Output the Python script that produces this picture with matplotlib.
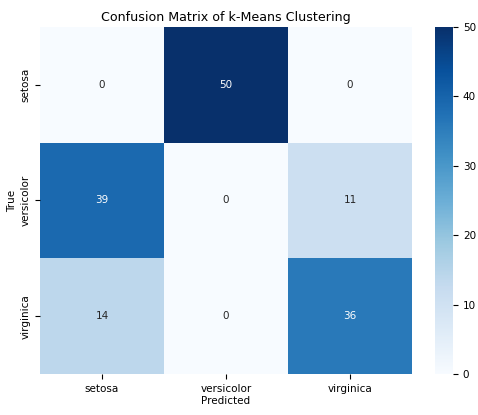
import matplotlib
matplotlib.use("Agg")
import matplotlib.pyplot as plt
import seaborn as sns
import numpy as np

classes = ["setosa", "versicolor", "virginica"]
row_setosa = [0, 50, 0]
row_versicolor = [39, 0, 11]
row_virginica = [14, 0, 36]

cm = np.array([row_setosa, row_versicolor, row_virginica])

fig = plt.figure(figsize=(4.78, 4.15), dpi=100)
ax = fig.add_axes([0.0837, 0.0988, 0.7783, 0.8362])
cax = fig.add_axes([0.910, 0.0988, 0.038, 0.8362])

sns.heatmap(cm, annot=True, fmt="d", cmap="Blues", ax=ax, cbar_ax=cax,
            xticklabels=classes, yticklabels=classes,
            annot_kws={"fontsize": 7.5})
ax.set_title("Confusion Matrix of k-Means Clustering", fontsize=9.1, pad=4)
ax.set_xlabel("Predicted", fontsize=7.5, labelpad=2)
ax.set_ylabel("True", fontsize=7.5, labelpad=2)
ax.tick_params(labelsize=7.5)
cax.tick_params(labelsize=7.5)

fig.savefig("out.png", dpi=100)
